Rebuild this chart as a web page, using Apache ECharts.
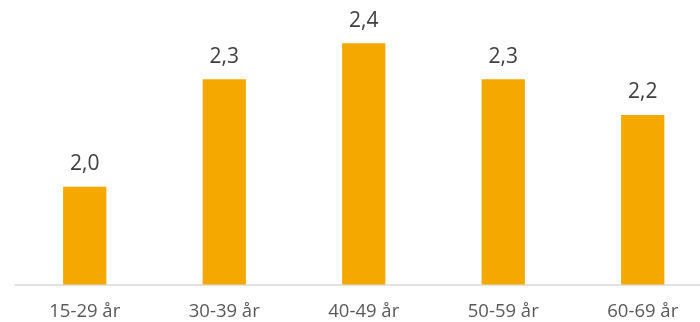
<!DOCTYPE html>
<html>
<head>
<meta charset="utf-8">
<script src="https://cdn.jsdelivr.net/npm/echarts@6/dist/echarts.min.js"></script>
<style>
  html, body { margin: 0; padding: 0; background: #fff; }
  #chart { width: 700px; height: 322px; }
</style>
</head>
<body>
<div id="chart"></div>
<script>
// Age groups and their average values
const ageGroups = ['15-29 år', '30-39 år', '40-49 år', '50-59 år', '60-69 år'];
const averages = [2.0, 2.3, 2.4, 2.3, 2.2];

const chart = echarts.init(document.getElementById('chart'), null, { renderer: 'canvas' });

chart.setOption({
  animation: false,
  // plot runs a little past the right edge of the canvas
  grid: {
    left: 15, width: 697.5, top: 10, bottom: 37.5,
    containLabel: false,
    outerBoundsMode: 'none'
  },
  xAxis: {
    type: 'category',
    data: ageGroups,
    axisLine: { show: true, lineStyle: { color: '#d9d9d9', width: 1.5 } },
    axisTick: { show: false },
    axisLabel: {
      color: '#595959',
      fontFamily: 'Open Sans',
      fontSize: 18.5,
      margin: 18
    }
  },
  yAxis: {
    type: 'value',
    min: 1.727,
    max: 2.493,
    show: false,
    splitLine: { show: false }
  },
  series: [{
    type: 'bar',
    data: averages,
    barWidth: '31%',
    itemStyle: { color: '#F5A800' },
    label: {
      show: true,
      position: 'top',
      distance: 12,
      color: '#404040',
      fontFamily: 'Open Sans',
      fontSize: 21,
      formatter: p => p.value.toFixed(1).replace('.', ',')
    }
  }]
});
</script>
</body>
</html>
